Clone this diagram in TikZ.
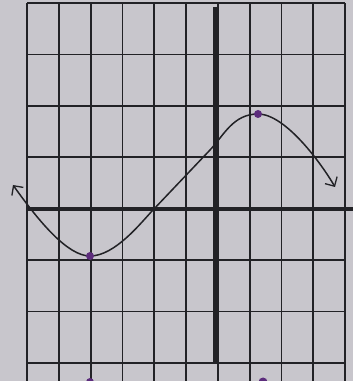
\documentclass[tikz,border=0pt]{standalone}
\usetikzlibrary{arrows.meta}
\definecolor{paper}{RGB}{200,198,204}
\definecolor{ink}{RGB}{34,34,38}
\definecolor{dotc}{RGB}{92,44,124}
\begin{document}
\begin{tikzpicture}[x=1pt,y=1pt,
  gridline/.style={ink,line width=1.8pt},
  axisline/.style={ink,line width=3.6pt},
  curveline/.style={ink,line width=1.5pt,line cap=round,
     {Straight Barb[length=7pt,width=14pt,line width=1.3pt]}-{Straight Barb[length=7pt,width=14pt,line width=1.3pt]}},
  ptdot/.style={fill=dotc}]
\fill[paper] (0,0) rectangle (353,381);
\useasboundingbox (0,0) rectangle (353,381);
% vertical grid lines
\foreach \k in {0,...,10}{
  \draw[gridline] ({27+31.8*\k},378) -- ({27+31.8*\k},0);
}
% horizontal grid lines
\foreach \k in {0,...,7}{
  \draw[gridline] (27,{378-51.43*\k}) -- (345,{378-51.43*\k});
}
% axes
\draw[axisline] (27,172) -- (353,172);
\draw[axisline] (215,374) -- (215,18);
% curve
\coordinate (tl) at (13,196);
\coordinate (mn) at (90,125);
\coordinate (z0) at (153,171);
\coordinate (q1) at (210,231);
\coordinate (mx) at (258,267);
\coordinate (tr) at (335,194);
\draw[curveline] (tl) .. controls (40,158) and (68,125) .. (mn)
  .. controls (115,125) and (140.6,157.9) .. (z0)
  .. controls (166.8,185.5) and (196.2,216.5) .. (q1)
  .. controls (223.8,245.5) and (233,267) .. (mx)
  .. controls (286,267) and (322.5,215.7) .. (tr);
% extreme points
\fill[ptdot] (mn) circle (4);
\fill[ptdot] (mx) circle (4);
% partial marks at bottom edge
\fill[ptdot] (90,-1) circle (4);
\fill[ptdot] (263,-1) circle (4.5);
\end{tikzpicture}
\end{document}
